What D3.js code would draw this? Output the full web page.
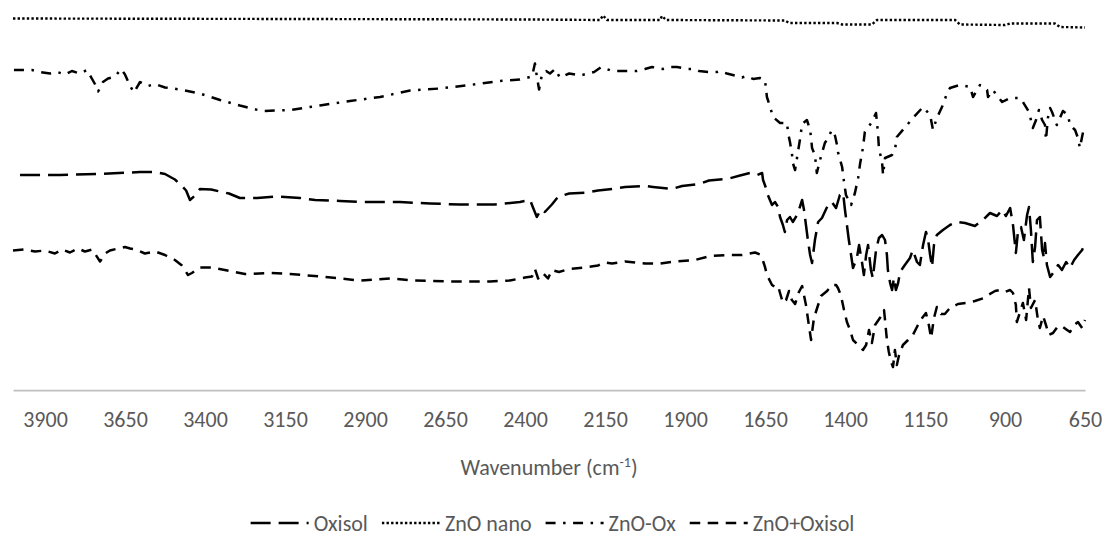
<!DOCTYPE html>
<html lang="en">
<head>
<meta charset="UTF-8">
<title>FTIR spectra</title>
<script src="https://d3js.org/d3.v7.min.js"></script>
<style>
  body { margin: 0; padding: 0; background: #fff; }
  svg { display: block; font-family: Calibri, Carlito, Lato, sans-serif; }
</style>
</head>
<body>
<svg id="chart" width="1105" height="546"></svg>
<script>
// x axis labels (wavenumber, cm-1)
const xTicks = [3900, 3650, 3400, 3150, 2900, 2650, 2400, 2150, 1900, 1650, 1400, 1150, 900, 650];

// legend order
const seriesNames = ["Oxisol", "ZnO nano", "ZnO-Ox", "ZnO+Oxisol"];

// spectra: [wavenumber, transmittance (arbitrary, offset)]
const oxisol = [
  [3978, 43.0], [3853, 43.0], [3728, 43.2], [3603, 43.6], [3556, 43.6], [3525, 43.2], [3494, 42.1],
  [3472, 40.8], [3459, 39.9], [3447, 38.0], [3431, 38.9], [3416, 40.2], [3381, 40.1], [3325, 39.3],
  [3291, 38.4], [3237, 38.4], [3181, 38.7], [3103, 38.4], [3056, 38.0], [2978, 37.8], [2916, 37.6],
  [2791, 37.6], [2697, 37.3], [2603, 37.1], [2494, 37.1], [2416, 37.6], [2384, 38.0], [2375, 36.5],
  [2363, 34.6], [2350, 36.1], [2338, 35.6], [2316, 37.1], [2297, 38.6], [2262, 39.3], [2206, 39.5],
  [2172, 39.9], [2128, 40.2], [2087, 40.6], [2025, 40.8], [2000, 40.6], [1941, 40.2], [1909, 40.8],
  [1856, 41.2], [1825, 41.9], [1762, 42.3], [1728, 42.9], [1697, 43.4], [1675, 43.0], [1659, 43.4],
  [1656, 42.0], [1647, 40.4], [1641, 39.0], [1628, 37.0], [1619, 37.6], [1609, 36.6], [1603, 34.6],
  [1594, 33.0], [1588, 31.6], [1581, 34.0], [1572, 34.6], [1563, 33.6], [1550, 35.0], [1541, 36.6],
  [1534, 38.0], [1528, 36.0], [1522, 33.0], [1516, 30.0], [1509, 27.0], [1503, 25.4], [1494, 30.0],
  [1484, 33.6], [1472, 34.4], [1453, 37.0], [1441, 37.6], [1428, 36.4], [1416, 39.0], [1406, 39.4],
  [1400, 36.0], [1394, 33.0], [1388, 30.0], [1381, 27.0], [1375, 24.4], [1363, 26.4], [1356, 29.0],
  [1347, 25.6], [1341, 23.0], [1334, 27.0], [1328, 29.0], [1319, 24.0], [1313, 22.4], [1303, 28.0],
  [1294, 30.4], [1284, 31.0], [1275, 30.0], [1269, 27.0], [1266, 24.0], [1259, 21.4], [1253, 20.0],
  [1247, 22.4], [1241, 20.0], [1234, 21.4], [1228, 23.6], [1213, 25.0], [1197, 26.4], [1188, 28.0],
  [1175, 25.6], [1166, 25.0], [1156, 29.0], [1147, 31.6], [1141, 30.4], [1134, 27.0], [1128, 24.6],
  [1122, 29.0], [1113, 31.0], [1094, 32.0], [1072, 33.0], [1050, 33.6], [1025, 33.4], [994, 32.8],
  [969, 34.0], [947, 35.4], [925, 34.8], [909, 36.0], [897, 34.8], [884, 36.4], [875, 33.0],
  [866, 27.4], [859, 32.0], [850, 32.6], [841, 30.0], [831, 35.0], [825, 36.6], [819, 32.0],
  [813, 25.6], [806, 28.6], [800, 34.0], [791, 34.6], [784, 28.0], [778, 26.4], [775, 29.4],
  [769, 25.0], [759, 22.6], [747, 23.6], [734, 25.0], [722, 24.0], [709, 25.6], [697, 24.4],
  [684, 26.0], [672, 27.0], [659, 28.0], [650, 29.4]
];

const znoNano = [
  [4000, 74.3], [3103, 74.2], [2384, 74.1], [2166, 74.0], [2156, 74.9], [2144, 74.0], [1978, 74.0],
  [1972, 74.8], [1959, 74.0], [1588, 73.9], [1575, 73.4], [1425, 73.4], [1409, 73.1], [1316, 73.1],
  [1300, 74.0], [1056, 74.0], [1041, 73.1], [900, 73.0], [884, 73.3], [744, 73.3], [728, 72.6],
  [650, 72.5]
];

const znoOx = [
  [3997, 64.0], [3941, 64.0], [3916, 63.6], [3884, 63.3], [3862, 63.6], [3837, 63.1], [3816, 63.8],
  [3791, 63.3], [3769, 64.0], [3744, 61.2], [3734, 59.7], [3719, 61.6], [3703, 62.3], [3681, 62.7],
  [3662, 64.2], [3650, 63.1], [3634, 60.8], [3622, 59.5], [3603, 61.6], [3578, 60.8], [3556, 61.2],
  [3525, 60.5], [3478, 60.1], [3416, 59.3], [3353, 58.0], [3291, 56.9], [3222, 55.8], [3134, 56.0],
  [3041, 56.9], [2947, 57.8], [2853, 58.6], [2759, 59.9], [2666, 60.3], [2572, 61.0], [2478, 61.8],
  [2416, 62.1], [2378, 62.7], [2369, 65.3], [2363, 62.7], [2356, 60.1], [2347, 63.1], [2334, 63.8],
  [2322, 63.3], [2306, 64.2], [2291, 62.5], [2262, 63.3], [2228, 62.9], [2184, 63.6], [2162, 64.6],
  [2128, 63.8], [2094, 63.8], [2050, 63.8], [2025, 64.2], [2003, 64.6], [1969, 64.2], [1947, 64.6],
  [1925, 64.6], [1891, 64.2], [1869, 64.2], [1856, 63.8], [1825, 63.6], [1800, 63.6], [1791, 63.8],
  [1769, 63.3], [1744, 62.9], [1722, 62.5], [1706, 62.8], [1687, 62.2], [1666, 62.4], [1650, 62.0],
  [1644, 58.6], [1634, 56.6], [1625, 54.6], [1603, 53.4], [1581, 53.4], [1578, 51.4], [1572, 49.6],
  [1566, 47.4], [1563, 45.4], [1556, 44.0], [1541, 50.0], [1534, 53.2], [1519, 54.0], [1509, 52.0],
  [1506, 50.4], [1503, 48.4], [1494, 47.0], [1488, 43.4], [1478, 46.0], [1463, 49.4], [1453, 50.4],
  [1441, 52.0], [1431, 50.8], [1425, 49.0], [1422, 47.6], [1409, 44.6], [1403, 41.6], [1397, 39.0],
  [1381, 37.0], [1369, 39.4], [1359, 42.4], [1353, 45.2], [1344, 48.4], [1338, 51.6], [1316, 53.6],
  [1303, 55.4], [1297, 51.4], [1294, 48.4], [1284, 45.4], [1281, 43.0], [1275, 46.4], [1253, 47.0],
  [1244, 48.0], [1238, 50.6], [1206, 53.0], [1188, 54.4], [1156, 56.6], [1134, 55.0], [1125, 52.0],
  [1113, 54.4], [1094, 57.0], [1081, 59.4], [1072, 60.4], [1041, 61.0], [1009, 60.6], [1000, 58.6],
  [978, 61.0], [956, 60.0], [953, 58.6], [938, 60.0], [909, 57.6], [884, 58.4], [853, 58.4],
  [844, 57.6], [825, 55.6], [813, 52.4], [803, 54.0], [794, 56.0], [784, 54.0], [775, 53.0],
  [772, 50.0], [766, 54.4], [759, 56.4], [753, 55.6], [738, 53.0], [719, 55.8], [703, 55.0],
  [697, 53.0], [681, 52.0], [672, 50.4], [666, 48.4], [656, 51.6], [650, 50.4]
];

const znoPlusOxisol = [
  [4000, 27.9], [3963, 28.1], [3931, 27.7], [3900, 27.9], [3869, 27.3], [3847, 28.1], [3822, 27.5],
  [3797, 28.3], [3775, 27.7], [3753, 28.1], [3741, 27.0], [3728, 25.7], [3712, 27.3], [3697, 27.9],
  [3672, 28.3], [3650, 28.6], [3634, 28.3], [3616, 28.1], [3588, 27.3], [3556, 27.7], [3525, 27.0],
  [3494, 26.0], [3472, 24.9], [3453, 23.0], [3441, 23.4], [3416, 24.5], [3381, 24.5], [3338, 24.0],
  [3275, 23.2], [3197, 23.4], [3134, 23.2], [3041, 22.7], [2978, 22.3], [2916, 21.9], [2822, 22.3],
  [2744, 21.9], [2634, 21.7], [2509, 21.7], [2447, 21.9], [2400, 22.5], [2378, 22.7], [2369, 24.2],
  [2359, 22.3], [2344, 23.4], [2328, 22.3], [2316, 24.0], [2294, 23.6], [2262, 24.2], [2212, 24.5],
  [2172, 24.9], [2150, 25.5], [2128, 25.3], [2087, 25.7], [2025, 25.3], [1978, 25.3], [1931, 25.7],
  [1869, 26.0], [1822, 26.8], [1769, 27.0], [1722, 27.0], [1681, 27.5], [1666, 27.1], [1659, 26.4],
  [1650, 24.6], [1644, 23.0], [1628, 21.0], [1619, 20.6], [1609, 20.8], [1603, 19.4], [1594, 17.4],
  [1584, 18.0], [1575, 19.8], [1566, 18.0], [1556, 17.2], [1544, 19.6], [1534, 20.8], [1522, 17.0],
  [1513, 13.0], [1506, 10.0], [1497, 14.4], [1484, 17.0], [1475, 18.8], [1456, 19.8], [1441, 21.0],
  [1428, 21.0], [1422, 20.4], [1413, 19.0], [1403, 16.0], [1394, 13.6], [1384, 12.0], [1375, 10.0],
  [1359, 9.0], [1344, 8.0], [1334, 9.0], [1325, 12.0], [1316, 9.4], [1306, 13.0], [1291, 14.4],
  [1278, 16.0], [1272, 12.0], [1269, 10.0], [1263, 7.6], [1256, 5.6], [1250, 4.6], [1244, 8.0],
  [1238, 5.0], [1231, 7.0], [1219, 9.0], [1203, 10.0], [1188, 11.0], [1172, 13.0], [1159, 14.4],
  [1147, 15.4], [1138, 13.0], [1131, 10.4], [1122, 14.4], [1113, 16.6], [1100, 15.2], [1088, 15.2],
  [1072, 16.4], [1047, 17.2], [1022, 17.4], [994, 17.8], [966, 18.4], [953, 19.0], [931, 19.8],
  [916, 20.0], [900, 19.6], [884, 20.0], [875, 19.4], [866, 17.0], [863, 13.6], [853, 15.6],
  [844, 17.4], [834, 14.0], [825, 20.4], [819, 16.4], [806, 18.0], [797, 14.0], [791, 12.4],
  [781, 14.8], [772, 13.0], [763, 11.0], [750, 11.4], [734, 12.8], [719, 12.6], [706, 12.0],
  [697, 11.6], [684, 13.0], [672, 13.6], [659, 12.4], [650, 14.0]
];

const width = 1105;
const height = 546;
const textColor = "#595959";
const fontSize = 22;

const series = [
  { name: seriesNames[0], values: oxisol,        dash: "20,8",             lw: 2.5 },
  { name: seriesNames[1], values: znoNano,       dash: "2.4,2.2",          lw: 2.4 },
  { name: seriesNames[2], values: znoOx,         dash: "10,7.5,2.5,7.5",   lw: 2.5 },
  { name: seriesNames[3], values: znoPlusOxisol, dash: "10.5,7.5",         lw: 2.5 }
];

const svg = d3.select("#chart")
  .attr("width", width)
  .attr("height", height);

svg.append("rect")
  .attr("width", width)
  .attr("height", height)
  .attr("fill", "#fff");

const x = d3.scaleLinear().domain([4000, 650]).range([13, 1085]);
const y = d3.scaleLinear().domain([0, 78]).range([390, 0]);

// x axis: light grey baseline, no tick marks
const xAxis = d3.axisBottom(x)
  .tickValues(xTicks)
  .tickFormat(d3.format("d"))
  .tickSize(0)
  .tickSizeOuter(0)
  .tickPadding(21);

svg.append("g")
  .attr("transform", `translate(0,${y(0)})`)
  .call(xAxis)
  .call(g => g.attr("font-family", null).attr("font-size", fontSize))
  .call(g => g.select(".domain").attr("stroke", "#bfbfbf").attr("stroke-width", 1.75))
  .call(g => g.selectAll("text").attr("fill", textColor));

const line = d3.line()
  .x(d => x(d[0]))
  .y(d => y(d[1]));

svg.append("g")
  .selectAll("path")
  .data(series)
  .enter()
  .append("path")
  .attr("d", d => line(d.values))
  .attr("fill", "none")
  .attr("stroke", "#000")
  .attr("stroke-width", d => d.lw)
  .attr("stroke-dasharray", d => d.dash)
  .attr("stroke-linejoin", "round");

// axis title with superscript
const title = svg.append("text")
  .attr("x", (x.range()[0] + x.range()[1]) / 2)
  .attr("y", 475)
  .attr("text-anchor", "middle")
  .attr("font-size", fontSize)
  .attr("fill", textColor);
title.append("tspan").text("Wavenumber (cm");
title.append("tspan").attr("dy", -8).attr("font-size", 14).text("-1");
title.append("tspan").attr("dy", 8).text(")");

// legend, centred under the chart
const legend = svg.append("g");
const sampleLen = 58;
let cursor = 0;
series.forEach(s => {
  const item = legend.append("g").attr("transform", `translate(${cursor},0)`);
  item.append("line")
    .attr("x1", 0).attr("x2", sampleLen)
    .attr("y1", 0).attr("y2", 0)
    .attr("stroke", "#000")
    .attr("stroke-width", s.lw)
    .attr("stroke-dasharray", s.dash);
  const t = item.append("text")
    .attr("x", sampleLen + 5)
    .attr("y", 0)
    .attr("dy", "0.35em")
    .attr("font-size", fontSize)
    .attr("fill", textColor)
    .text(s.name);
  cursor += sampleLen + 5 + t.node().getComputedTextLength() + 14;
});
const legendWidth = cursor - 14;
legend.attr("transform", `translate(${width / 2 - legendWidth / 2},523)`);
</script>
</body>
</html>
